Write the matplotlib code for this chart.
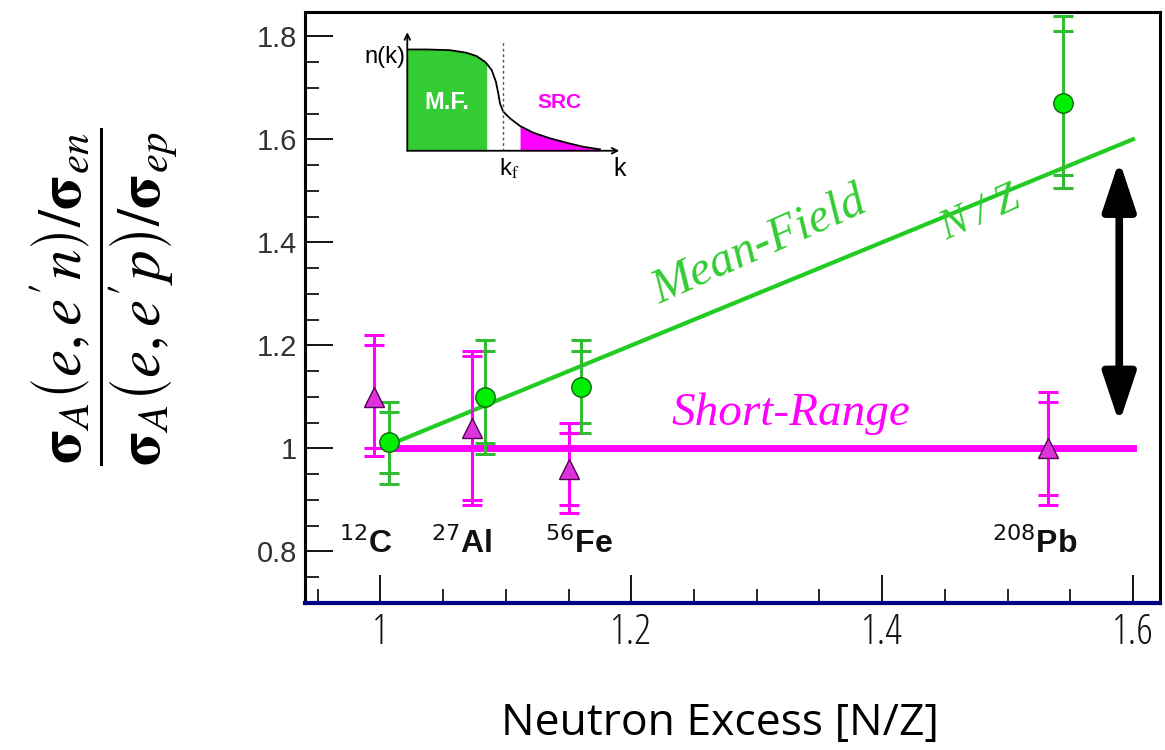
import matplotlib
matplotlib.use("Agg")
import matplotlib.pyplot as plt
import numpy as np

# ratio data: center, inner (stat) and outer (total) error bars
nuclei = ["$^{12}$C", "$^{27}$Al", "$^{56}$Fe", "$^{208}$Pb"]
label_x = [0.988, 1.065, 1.158, 1.522]

np_x = [1.007, 1.083, 1.160, 1.544]
np_y = [1.012, 1.100, 1.120, 1.670]
np_hi_in = [1.070, 1.190, 1.190, 1.810]
np_hi_out = [1.090, 1.210, 1.210, 1.840]
np_lo_in = [0.953, 1.010, 1.050, 1.530]
np_lo_out = [0.930, 0.990, 1.030, 1.505]

pp_x = [0.995, 1.073, 1.150, 1.532]
pp_y = [1.100, 1.040, 0.960, 1.000]
pp_hi_in = [1.200, 1.180, 1.030, 1.090]
pp_hi_out = [1.220, 1.190, 1.050, 1.110]
pp_lo_in = [1.000, 0.900, 0.890, 0.910]
pp_lo_out = [0.985, 0.890, 0.875, 0.890]

# model curves
model_x = [1.005, 1.6]
mean_field_y = [1.005, 1.6]   # N/Z
short_range_y = [1.0, 1.0]

# inset: schematic momentum distribution n(k)
inset_k = [0, 0.10, 0.222, 0.308, 0.360, 0.403, 0.412, 0.438, 0.460, 0.472, 0.481,
           0.498, 0.533, 0.585, 0.654, 0.741, 0.827, 0.913, 1.0]
inset_n = [1, 1, 0.993, 0.967, 0.934, 0.878, 0.86, 0.796, 0.680, 0.566, 0.467,
           0.385, 0.320, 0.244, 0.178, 0.122, 0.079, 0.039, 0.014]
k_mf_end = 0.412
k_fermi = 0.498
k_src_start = 0.585

green = "#22cc22"
magenta = "#ff00ff"

fig = plt.figure(figsize=(11.65, 7.5), dpi=100)
ax = fig.add_axes([0.262, 0.196, 0.7337, 0.788])

ax.plot(model_x, short_range_y, color=magenta, lw=5, zorder=2)
ax.plot(model_x, mean_field_y, color=green, lw=3, zorder=2)


def bars(x, y, lo_out, hi_out, lo_in, hi_in, color):
    x = np.array(x)
    y = np.array(y)
    for lo, hi in [(lo_out, hi_out), (lo_in, hi_in)]:
        err = [y - np.array(lo), np.array(hi) - y]
        ax.errorbar(x, y, yerr=err, fmt="none", ecolor=color, elinewidth=2.2,
                    capsize=7, capthick=2.2, zorder=3)


bars(np_x, np_y, np_lo_out, np_hi_out, np_lo_in, np_hi_in, "#33bb33")
bars(pp_x, pp_y, pp_lo_out, pp_hi_out, pp_lo_in, pp_hi_in, magenta)
ax.plot(np_x, np_y, "o", ms=14, mfc="#00ee00", mec="#116611", mew=1, zorder=4)
ax.plot(pp_x, pp_y, "^", ms=14, mfc="#dd33dd", mec="#550055", mew=1, zorder=4)

for lab, lx in zip(nuclei, label_x):
    ax.text(lx, 0.797, lab, fontsize=23, fontweight="bold", ha="center",
            va="baseline", family="Liberation Sans", color="#111111")

ax.text(1.302, 1.392, "Mean-Field", fontsize=35, style="italic",
        family="Liberation Serif", color="#33cc33", rotation=24, ha="center", va="center")
ax.text(1.478, 1.455, "N / Z", fontsize=30, style="italic",
        family="Liberation Serif", color="#33cc33", rotation=24, ha="center", va="center")
ax.text(1.327, 1.067, "Short-Range", fontsize=34, style="italic",
        family="Liberation Serif", color=magenta, ha="center", va="center")

ax.annotate("", xy=(1.589, 1.049), xytext=(1.589, 1.559),
            arrowprops=dict(arrowstyle="<|-|>,head_length=0.75,head_width=0.25",
                            mutation_scale=40, lw=5.5, color="black", shrinkA=0, shrinkB=0))

ax.set_xlim(0.94, 1.6215)
ax.set_ylim(0.70, 1.847)
ax.set_xticks([1, 1.2, 1.4, 1.6])
ax.set_xticklabels(["1", "1.2", "1.4", "1.6"])
ax.set_yticks([0.8, 1, 1.2, 1.4, 1.6, 1.8])
ax.set_yticklabels(["0.8", "1", "1.2", "1.4", "1.6", "1.8"])
ax.set_xticks(np.arange(0.95, 1.62, 0.05), minor=True)
ax.set_yticks(np.arange(0.75, 1.84, 0.05), minor=True)
ax.tick_params(which="major", direction="in", length=20, width=1.3)
ax.tick_params(which="minor", direction="in", length=10, width=1.2)
ax.tick_params(axis="y", labelsize=21, pad=6, labelcolor="#333333")
ax.tick_params(axis="x", labelsize=30, pad=6, labelcolor="#111111")
for t in ax.get_xticklabels():
    t.set_family("Open Sans")
    t.set_stretch("condensed")
for t in ax.get_yticklabels():
    t.set_family("Liberation Sans")
for s in ["left", "top", "right"]:
    ax.spines[s].set_linewidth(2.2)
ax.spines["bottom"].set_color("#000080")
ax.spines["bottom"].set_linewidth(3)

fig.text(0.618, 0.035, "Neutron Excess [N/Z]", fontsize=32, ha="center", va="center",
         family="Open Sans")

plt.rcParams["mathtext.fontset"] = "stix"
fig.text(0.09, 0.604,
         r"$\dfrac{\mathbf{\sigma}_A\left(e,e'n\right)/\mathbf{\sigma}_{en}}"
         r"{\mathbf{\sigma}_A\left(e,e'p\right)/\mathbf{\sigma}_{ep}}$",
         fontsize=44, rotation=90, ha="center", va="center")

# inset
ins = fig.add_axes([0.3496, 0.799, 0.182, 0.158])
ins.set_facecolor("none")
ins.axis("off")
ins.set_xlim(0, 1.1)
ins.set_ylim(0, 1.17)
k = np.array(inset_k)
n = np.array(inset_n)
ins.fill_between(k, 0, n, where=k <= k_mf_end, color="#33cc33", lw=0)
ins.fill_between(k, 0, n, where=k >= k_src_start, color=magenta, lw=0)
ins.plot(k, n, color="black", lw=1.3)
ins.plot([0, 0], [0, 1], color="black", lw=1.3)
ins.plot([k_fermi, k_fermi], [0, 1.07], color="#555555", lw=1, ls=(0, (2, 2)))
ins.annotate("", xy=(1.1, 0), xytext=(0, 0), annotation_clip=False,
             arrowprops=dict(arrowstyle="->", lw=1.3, color="black", shrinkA=0, shrinkB=0))
ins.annotate("", xy=(0, 1.17), xytext=(0, 0), annotation_clip=False,
             arrowprops=dict(arrowstyle="->", lw=1.3, color="black", shrinkA=0, shrinkB=0))
ins.text(-0.01, 0.93, "n(k)", fontsize=17, ha="right", va="center", family="Liberation Sans")
ins.text(0.205, 0.48, "M.F.", fontsize=17, fontweight="bold", color="white",
         ha="center", va="center", family="Liberation Sans")
ins.text(0.79, 0.48, "SRC", fontsize=15, fontweight="bold", color=magenta,
         ha="center", va="center", family="Liberation Sans")
ins.text(0.53, -0.06, r"k$_\mathrm{f}$", fontsize=17, ha="center", va="top",
         family="Liberation Sans")
ins.text(1.1, -0.06, "k", fontsize=18, ha="center", va="top", family="Liberation Sans")

fig.savefig("out.png", dpi=100)
